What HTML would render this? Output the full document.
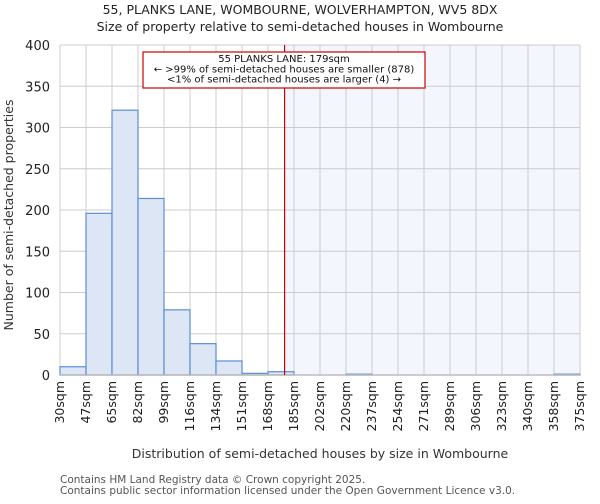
<!DOCTYPE html>
<html><head><meta charset="utf-8"><style>
body{margin:0;background:#fff;font-family:"DejaVu Sans","Liberation Sans",sans-serif;}
</style></head><body>
<svg width="600" height="500" xmlns="http://www.w3.org/2000/svg" font-family="DejaVu Sans, Liberation Sans, sans-serif">
<text x="300" y="14" text-anchor="middle" font-size="12.5" fill="#222">55, PLANKS LANE, WOMBOURNE, WOLVERHAMPTON, WV5 8DX</text>
<text x="300" y="31" text-anchor="middle" font-size="12.5" fill="#222">Size of property relative to semi-detached houses in Wombourne</text>
<g id="plot"></g>
<text transform="translate(13,215) rotate(-90)" text-anchor="middle" font-size="12.5" fill="#333">Number of semi-detached properties</text>
<text x="320" y="458" text-anchor="middle" font-size="12.5" fill="#333">Distribution of semi-detached houses by size in Wombourne</text>
<text x="60" y="483" font-size="10.5" fill="#555">Contains HM Land Registry data © Crown copyright 2025.</text>
<text x="60" y="494" font-size="10.5" fill="#555">Contains public sector information licensed under the Open Government Licence v3.0.</text>
</svg>
<script>
const tickLabels=["30sqm","47sqm","65sqm","82sqm","99sqm","116sqm","134sqm","151sqm","168sqm","185sqm","202sqm","220sqm","237sqm","254sqm","271sqm","289sqm","306sqm","323sqm","340sqm","358sqm","375sqm"];
const counts=[10,196,321,214,79,38,17,2,4,0,0,1,0,0,0,0,0,0,0,1];
const yTicks=[0,50,100,150,200,250,300,350,400];
const subjectSize=179;
const minSize=30,maxSize=375;
const L=60,R=580,T=45,B=375,yMax=400;
const NS="http://www.w3.org/2000/svg";
const g=document.getElementById('plot');
const n=counts.length,bw=(R-L)/n;
const xb=i=>L+i*bw;
const y=v=>B-(v/yMax)*(B-T);
const xs=s=>L+(s-minSize)/(maxSize-minSize)*(R-L);
function mk(t,a){const e=document.createElementNS(NS,t);for(const k in a)e.setAttribute(k,a[k]);g.appendChild(e);return e;}
const sx=xs(subjectSize);
let e=mk('rect',{x:sx,y:T,width:R-sx,height:B-T,fill:'#f3f6fd'});


yTicks.forEach(v=>{
 let l=mk('line',{x1:L,x2:R,y1:y(v),y2:y(v),stroke:'#ccc','stroke-width':1});
 
 
 let t=mk('text',{x:L-10,y:y(v)+5,'text-anchor':'end','font-size':'13',fill:'#222'});
 t.textContent=v;
 
 
});
tickLabels.forEach((s,i)=>{
 let l=mk('line',{x1:xb(i),x2:xb(i),y1:T,y2:B,stroke:'#ccc','stroke-width':1});
 
 
 let t=mk('text',{transform:`translate(${xb(i)+4},381) rotate(-90)`,'text-anchor':'end','font-size':'12.5',fill:'#222'});
 t.textContent=s;
 
 
});
counts.forEach((c,i)=>{
 if(c<=0)return;
 let r=mk('rect',{x:xb(i),y:y(c),width:bw,height:B-y(c),fill:'#dce6f4',stroke:'#5a8fd6','stroke-width':1.2});
 
 
});
let ax=mk('line',{x1:L,x2:R,y1:B,y2:B,stroke:'#bbb','stroke-width':1.5});


let rl=mk('line',{x1:sx,x2:sx,y1:T,y2:B,stroke:'#c00','stroke-width':1.2});


let bx=mk('rect',{x:143,y:52,width:282,height:36,fill:'#fff',stroke:'#c00','stroke-width':1.2});


["55 PLANKS LANE: 179sqm","← >99% of semi-detached houses are smaller (878)","<1% of semi-detached houses are larger (4) →"].forEach((s,i)=>{
 let t=mk('text',{x:284,y:62+i*10.3,'text-anchor':'middle','font-size':'10',fill:'#111'});
 t.textContent=s;
 
 
});
</script>
</body></html>
